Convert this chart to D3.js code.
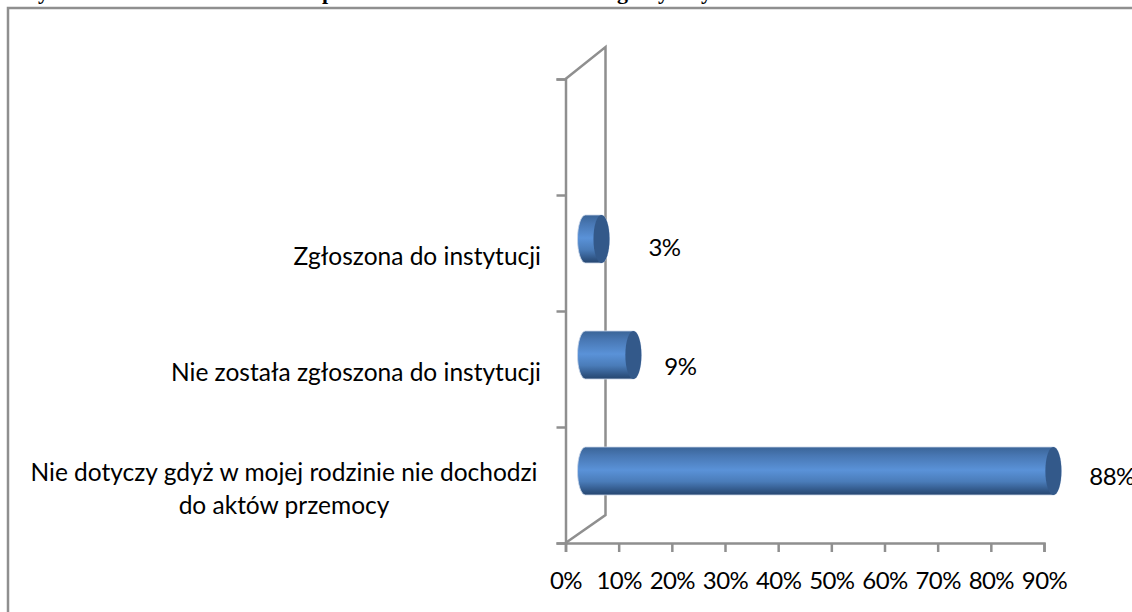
<!DOCTYPE html>
<html>
<head>
<meta charset="utf-8">
<script src="https://cdnjs.cloudflare.com/ajax/libs/d3/7.8.5/d3.min.js"></script>
<style>
html, body { margin: 0; padding: 0; background: #fff; overflow: hidden; }
svg { display: block; }
text { font-family: Lato, "Open Sans", sans-serif; fill: #000; }
</style>
</head>
<body>
<div id="svg_container"></div>
<script>
/* -----------------------
data
------------------------- */

// top to bottom, the first slot of the axis is empty in the original
var categories = ["", "Zgłoszona do instytucji", "Nie została zgłoszona do instytucji", "Nie dotyczy"];
var categoryLines = [[], ["Zgłoszona do instytucji"], ["Nie została zgłoszona do instytucji"],
    ["Nie dotyczy gdyż w mojej rodzinie nie dochodzi", "do aktów przemocy"]];
var values = [null, 3, 9, 88];
var xTicks = [0, 10, 20, 30, 40, 50, 60, 70, 80, 90];

// only the descenders of the heading are left in the cropped picture
var headingGlyphs = ["y", "p", "g", "y", "y"];
var headingX = [38, 322, 617, 658, 701];

/* -----------------------
main variables
------------------------- */

var width = 1132, height = 612;
var plot = {left: 565.5, right: 1044, top: 79, bottom: 543};
var depth = {x: 40, y: -30};
var gray = "#8f8f8f";

// per label nudges, the original labels are not placed regularly
var labelDx = [0, 47, 31, 36];
var labelBase = [0, 256, 375, 485];
var catBase = [0, 265, 381, 481];

// rows that really have a bar
var rows = d3.range(values.length).filter(function(i) { return values[i] !== null; });

var svg = d3.select("#svg_container")
    .append("svg")
    .attr("width", width)
    .attr("height", height)
    .attr("viewBox", "0 0 " + width + " " + height);

var x = d3.scaleLinear().domain([0, 90]).range([plot.left, plot.right]);
var y = d3.scaleBand().domain(categories).range([plot.top, plot.bottom]);
var yEdges = d3.scaleLinear().domain([0, categories.length]).range([plot.top, plot.bottom]);

/* -----------------------
gradient
------------------------- */

var grad = svg.append("defs").append("linearGradient")
    .attr("id", "barFill")
    .attr("x1", 0).attr("y1", 0).attr("x2", 0).attr("y2", 1);
grad.append("stop").attr("offset", "0%").attr("stop-color", "#3a6497");
grad.append("stop").attr("offset", "18%").attr("stop-color", "#4877b3");
grad.append("stop").attr("offset", "48%").attr("stop-color", "#5a92d8");
grad.append("stop").attr("offset", "72%").attr("stop-color", "#4a7cb9");
grad.append("stop").attr("offset", "92%").attr("stop-color", "#2f5483");
grad.append("stop").attr("offset", "100%").attr("stop-color", "#264670");

/* -----------------------
heading and frame
------------------------- */

svg.selectAll(".heading")
    .data(headingGlyphs)
    .enter().append("text")
    .attr("class", "heading")
    .attr("x", function(d, i) { return headingX[i]; })
    .attr("y", -1)
    .style("font-family", "'Liberation Serif', serif")
    .style("font-weight", "bold")
    .style("font-size", "22px")
    .text(function(d) { return d; });

svg.append("path")
    .attr("d", "M8," + height + "V8H" + width)
    .attr("fill", "none")
    .attr("stroke", gray)
    .attr("stroke-width", 2.5);

/* -----------------------
walls
------------------------- */

svg.append("path")
    .attr("d", d3.line()([
        [plot.left, plot.bottom],
        [plot.left + depth.x, plot.bottom + depth.y + 2],
        [plot.left + depth.x, plot.top + depth.y - 2],
        [plot.left, plot.top]
    ]))
    .attr("fill", "none")
    .attr("stroke", gray)
    .attr("stroke-width", 2.5);

/* -----------------------
axes
------------------------- */

var xAxis = svg.append("g")
    .attr("transform", "translate(0," + plot.bottom + ")")
    .call(d3.axisBottom(x).tickValues(xTicks).tickSize(9).tickFormat(function(d) { return d + "%"; }));

var yAxis = svg.append("g")
    .attr("transform", "translate(" + plot.left + ",0)")
    .call(d3.axisLeft(yEdges).tickValues(d3.range(categories.length + 1)).tickSize(9).tickFormat(""));

svg.selectAll(".domain, .tick line")
    .attr("stroke", gray)
    .attr("stroke-width", 2.5);

xAxis.selectAll("text")
    .attr("y", 0)
    .attr("dy", null)
    .attr("transform", "translate(0,46)")
    .style("font-family", "Lato, sans-serif")
    .style("font-size", "24px")
    .style("letter-spacing", "-0.6px");

/* -----------------------
category labels
------------------------- */

var catLabels = svg.selectAll(".cat")
    .data(rows)
    .enter().append("text")
    .attr("class", "cat")
    .style("font-size", "24.5px")
    .attr("text-anchor", function(i) { return categoryLines[i].length > 1 ? "middle" : "end"; })
    .attr("y", function(i) { return catBase[i]; });

catLabels.selectAll("tspan")
    .data(function(i) { return categoryLines[i]; })
    .enter().append("tspan")
    .attr("x", function() {
        return this.parentNode.getAttribute("text-anchor") === "middle" ? 284 : 541;
    })
    .attr("dy", function(d, i) { return i === 0 ? 0 : 33; })
    .text(function(d) { return d; });

/* -----------------------
cylinders
------------------------- */

var rx = 8, ry = 24;

function barY(i) {
    return y(categories[i]) + y.bandwidth() / 2 - 14;
}

function barBody(i) {
    var cy = barY(i),
        x0 = x(0) + 20,
        x1 = x(values[i]) + 20;
    return "M" + x0 + "," + (cy - ry) +
        "L" + x1 + "," + (cy - ry) +
        "A" + rx + "," + ry + " 0 0 1 " + x1 + "," + (cy + ry) +
        "L" + x0 + "," + (cy + ry) +
        "A" + rx + "," + ry + " 0 0 1 " + x0 + "," + (cy - ry) + "Z";
}

var bars = svg.selectAll(".bar")
    .data(rows)
    .enter().append("g")
    .attr("class", "bar");

bars.append("path")
    .attr("d", barBody)
    .attr("fill", "url(#barFill)")
    .attr("stroke", "#c9d6e8")
    .attr("stroke-width", 0.8);

bars.append("ellipse")
    .attr("cx", function(i) { return x(values[i]) + 20; })
    .attr("cy", barY)
    .attr("rx", rx)
    .attr("ry", ry)
    .attr("fill", "#33598a");

/* -----------------------
value labels
------------------------- */

svg.selectAll(".val")
    .data(rows)
    .enter().append("text")
    .attr("class", "val")
    .attr("x", function(i) { return x(values[i]) + 20 + labelDx[i]; })
    .attr("y", function(i) { return labelBase[i]; })
    .style("font-size", "24px")
    .style("letter-spacing", "-0.6px")
    .text(function(i) { return values[i] + "%"; });
</script>
</body>
</html>
